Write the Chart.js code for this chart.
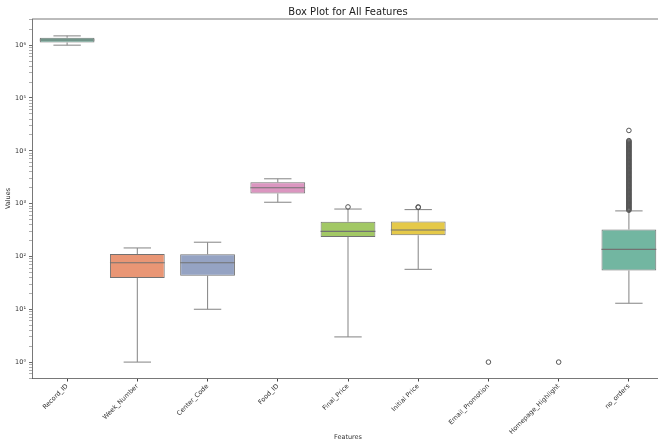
<!DOCTYPE html>
<html>
<head>
<meta charset="utf-8">
<title>Box Plot for All Features</title>
<script src="https://cdn.jsdelivr.net/npm/chart.js@4.4.1/dist/chart.umd.min.js"></script>
<style>
    body { margin: 0; background: #fff; overflow: hidden; }
    #conteneur { width: 658px; height: 442px; overflow: hidden; }
</style>
</head>
<body>
<div id="conteneur">
    <canvas id="boxPlotChart" width="669" height="442"></canvas>
</div>
<script>
// Colonnes du jeu de données
const features = ['Record_ID', 'Week_Number', 'Center_Code', 'Food_ID', 'Final_Price', 'Initial Price', 'Email_Promotion', 'Homepage_Highlight', 'no_orders'];

// Statistiques des boîtes (null = pas de boîte visible en échelle log)
const whiskerLow  = [1000000, 1,   10,  1062, 3,   57,  null, null, 13];
const q1          = [1125000, 39,  43,  1558, 233, 251, null, null, 54];
const median      = [1250000, 76,  76,  1993, 299, 316, null, null, 136];
const q3          = [1375000, 111, 110, 2539, 454, 460, null, null, 324];
const whiskerHigh = [1500000, 145, 186, 2956, 790, 772, null, null, 729];

// Valeurs aberrantes par colonne
const outliersFinalPrice = [866];
const outliersInitialPrice = [850, 866];
const outliersEmail = [1];
const outliersHomepage = [1];
const outliersOrders = [750, 777, 805, 834, 864, 895, 927, 960, 995, 1031, 1068, 1106, 1146, 1187, 1230, 1274,
    1320, 1368, 1417, 1468, 1521, 1576, 1632, 1691, 1752, 1815, 1880, 1948, 2018, 2091, 2166, 2244, 2325,
    2408, 2495, 2585, 2678, 2774, 2874, 2977, 3085, 3196, 3311, 3430, 3553, 3681, 3814, 3951, 4093, 4241,
    4393, 4552, 4715, 4885, 5061, 5243, 5432, 5627, 5830, 6040, 6257, 6483, 6716, 6958, 7208, 7468, 7737,
    8015, 8304, 8603, 8913, 9233, 9566, 9910, 10267, 10637, 11020, 11417, 11828, 12253, 12694, 13151, 13625,
    14115, 14624, 15150, 15600, 24299];

// Graduations de l'axe Y
const yMajorTicks = [1, 10, 100, 1000, 10000, 100000, 1000000];
const yTickLabels = ['10⁰', '10¹', '10²', '10³', '10⁴', '10⁵', '10⁶'];

// Palette Set2 désaturée (seaborn)
const boxColors = ['#72b6a1', '#e99675', '#95a3c3', '#db96c0', '#a2c865', '#e5c949', '#dbc29e', '#b3b3b3', '#72b6a1'];
const edgeColor = '#727272';
const whiskerColor = '#8e8e8e';

const outlierPoints = [];
[[4, outliersFinalPrice], [5, outliersInitialPrice], [6, outliersEmail], [7, outliersHomepage], [8, outliersOrders]]
    .forEach(([i, values]) => values.forEach(v => outlierPoints.push({ x: features[i], y: v })));

// Moustaches, médianes et cadre
const boxPlotPlugin = {
    id: 'moustaches',
    beforeDatasetsDraw(chart) {
        const ctx = chart.ctx;
        const y = chart.scales.y;
        const bars = chart.getDatasetMeta(0).data;
        ctx.save();
        ctx.strokeStyle = whiskerColor;
        ctx.lineWidth = 1.1;
        features.forEach((f, i) => {
            if (whiskerLow[i] === null) return;
            const cx = bars[i].x;
            const cap = bars[i].width / 4;
            const segments = [
                [cx, y.getPixelForValue(q1[i]), cx, y.getPixelForValue(whiskerLow[i])],
                [cx, y.getPixelForValue(q3[i]), cx, y.getPixelForValue(whiskerHigh[i])],
                [cx - cap, y.getPixelForValue(whiskerLow[i]), cx + cap, y.getPixelForValue(whiskerLow[i])],
                [cx - cap, y.getPixelForValue(whiskerHigh[i]), cx + cap, y.getPixelForValue(whiskerHigh[i])]
            ];
            segments.forEach(s => {
                ctx.beginPath();
                ctx.moveTo(s[0], s[1]);
                ctx.lineTo(s[2], s[3]);
                ctx.stroke();
            });
        });
        ctx.restore();
    },
    afterDatasetsDraw(chart) {
        const ctx = chart.ctx;
        const y = chart.scales.y;
        const bars = chart.getDatasetMeta(0).data;
        const area = chart.chartArea;
        ctx.save();
        ctx.strokeStyle = edgeColor;
        ctx.lineWidth = 1.1;
        features.forEach((f, i) => {
            if (median[i] === null) return;
            const half = bars[i].width / 2;
            const py = y.getPixelForValue(median[i]);
            ctx.beginPath();
            ctx.moveTo(bars[i].x - half, py);
            ctx.lineTo(bars[i].x + half, py);
            ctx.stroke();
        });
        // cadre haut / droite
        ctx.strokeStyle = '#555';
        ctx.lineWidth = 0.8;
        ctx.beginPath();
        ctx.moveTo(area.left, area.top);
        ctx.lineTo(area.right, area.top);
        ctx.lineTo(area.right, area.bottom);
        ctx.stroke();
        ctx.restore();
    }
};

Chart.defaults.font.family = "'DejaVu Sans', sans-serif";
Chart.defaults.color = '#333';

const ctx = document.getElementById('boxPlotChart').getContext('2d');
const chart = new Chart(ctx, {
    type: 'bar',
    data: {
        labels: features,
        datasets: [
            {
                label: 'boxes',
                data: q1.map((v, i) => v === null ? null : [v, q3[i]]),
                backgroundColor: boxColors,
                borderColor: edgeColor,
                borderWidth: 1,
                borderSkipped: false,
                barPercentage: 0.78,
                categoryPercentage: 1
            },
            {
                type: 'line',
                label: 'outliers',
                data: outlierPoints,
                showLine: false,
                pointStyle: 'circle',
                pointRadius: 2.3,
                pointBorderWidth: 1,
                pointBorderColor: '#555',
                pointBackgroundColor: 'rgba(0,0,0,0)'
            }
        ]
    },
    options: {
        responsive: false,
        animation: false,
        devicePixelRatio: 1,
        layout: { padding: { right: 2 } },
        plugins: {
            legend: { display: false },
            tooltip: { enabled: false },
            title: {
                display: true,
                text: 'Box Plot for All Features',
                fullSize: false,
                color: '#222',
                font: { size: 10, weight: 'normal' },
                padding: { top: 6, bottom: 1 }
            }
        },
        scales: {
            x: {
                grid: { display: true, drawOnChartArea: false, offset: false, tickLength: 3.5, color: '#444' },
                border: { display: true, color: '#555', width: 0.8 },
                ticks: { autoSkip: false, minRotation: 45, maxRotation: 45, padding: 1, font: { size: 6.5 } },
                title: { display: true, text: 'Features', font: { size: 6.5 }, padding: { top: 0, bottom: 1 } },
                afterFit: scale => { scale.height = 64; }
            },
            y: {
                type: 'logarithmic',
                min: 0.5,
                max: 3.13e6,
                grid: {
                    display: true,
                    drawOnChartArea: false,
                    tickLength: 3,
                    tickColor: c => yMajorTicks.includes(c.tick.value) ? '#444' : '#777',
                    tickWidth: c => yMajorTicks.includes(c.tick.value) ? 0.8 : 0.6
                },
                border: { display: true, color: '#555', width: 0.8 },
                afterBuildTicks: scale => {
                    // graduations mineures 2..9 x 10^k
                    const ticks = [];
                    for (let e = -1; e <= 6; e++) {
                        for (let m = 1; m <= 9; m++) {
                            const v = m * Math.pow(10, e);
                            if (v >= 0.5 && v <= 3.13e6) ticks.push({ value: e >= 0 && m === 1 ? yMajorTicks[e] : v });
                        }
                    }
                    scale.ticks = ticks;
                },
                ticks: {
                    autoSkip: false,
                    padding: 3,
                    font: { size: 6.5 },
                    callback: value => {
                        const idx = yMajorTicks.indexOf(value);
                        return idx >= 0 ? yTickLabels[idx] : '';
                    }
                },
                title: { display: true, text: 'Values', font: { size: 6.5 }, padding: { top: 4, bottom: 0 } },
                afterFit: scale => { scale.width = 32; }
            }
        }
    },
    plugins: [boxPlotPlugin]
});
</script>
</body>
</html>
